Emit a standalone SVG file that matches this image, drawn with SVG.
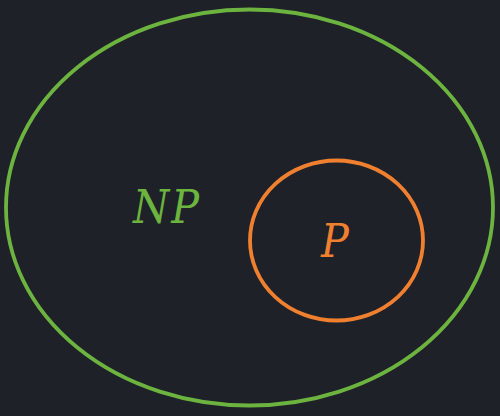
<svg xmlns="http://www.w3.org/2000/svg" width="500" height="416" viewBox="0 0 500 416">
<style>
.lbl{font-family:"DejaVu Serif Condensed","DejaVu Serif",serif;font-stretch:condensed;font-style:italic;font-size:46px;text-anchor:middle}
</style>
<rect width="500" height="416" fill="#1e2128"/>
<g id="np">
<ellipse cx="249.5" cy="207.5" rx="243.5" ry="198" fill="none" stroke="#6db33f" stroke-width="3.8"/>
<text class="lbl" x="167" y="223" fill="#6db33f" letter-spacing="2">NP</text>
</g>
<g id="p">
<ellipse cx="336.5" cy="240.5" rx="86.5" ry="80" fill="none" stroke="#f08030" stroke-width="3.8"/>
<text class="lbl" x="335" y="257" fill="#f08030">P</text>
</g>
<g id="connectors"/>
</svg>
